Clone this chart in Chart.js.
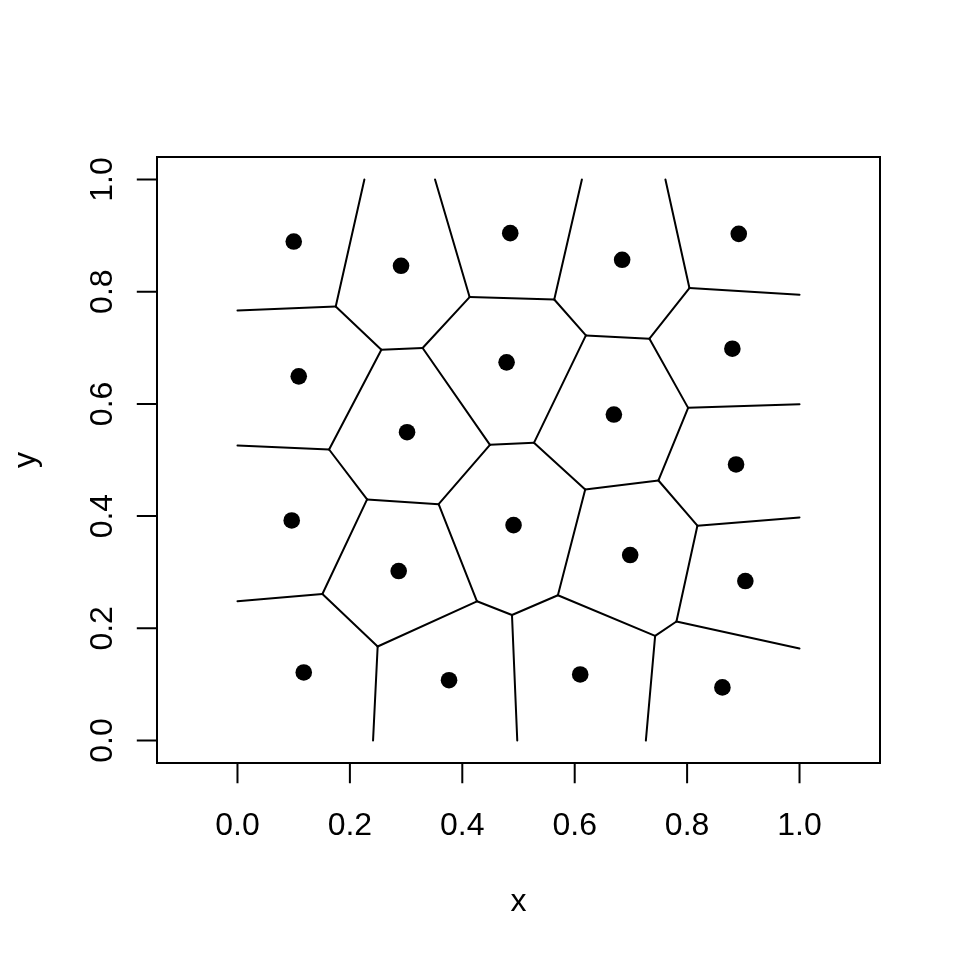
<!DOCTYPE html>
<html>
<head>
<meta charset="utf-8">
<script src="https://cdn.jsdelivr.net/npm/chart.js@4/dist/chart.umd.min.js"></script>
<style>
  html, body { margin: 0; padding: 0; background: #ffffff; }
  #wrap { width: 960px; height: 960px; }
</style>
</head>
<body>
<div id="wrap"><canvas id="c" width="960" height="960"></canvas></div>
<script>
// ---- data: generator points ----
const pointX = [0.1001, 0.2910, 0.4853, 0.6844, 0.8919,
                0.1090, 0.3017, 0.4788, 0.6697, 0.8805,
                0.0965, 0.2868, 0.4912, 0.6987, 0.8871,
                0.1179, 0.3764, 0.6098, 0.8628, 0.9036];
const pointY = [0.8893, 0.8461, 0.9043, 0.8568, 0.9030,
                0.6491, 0.5495, 0.6740, 0.5810, 0.6984,
                0.3923, 0.3021, 0.3840, 0.3306, 0.4920,
                0.1214, 0.1076, 0.1178, 0.0947, 0.2843];

// ---- data: Voronoi edges (start x, start y, end x, end y) ----
const edgeX0 = [0.2258, 0.0000, 0.1748, 0.2560, 0.3294, 0.4130, 0.4130, 0.5636, 0.5636, 0.6199,
                0.7330, 0.8041, 0.8041, 0.7330, 0.8018, 0.8018, 0.7490, 0.7490, 0.8183, 0.8183,
                0.7810, 0.7810, 0.7431, 0.7431, 0.5701, 0.6187, 0.5275, 0.5275, 0.4492, 0.4492,
                0.3579, 0.2306, 0.1630, 0.1630, 0.2306, 0.1511, 0.1511, 0.2494, 0.2494, 0.4261,
                0.4261, 0.4884, 0.4884];
const edgeY0 = [1.0000, 0.7665, 0.7737, 0.6966, 0.6996, 0.7904, 0.7904, 0.7861, 0.7861, 0.7221,
                0.7162, 0.8064, 0.8064, 0.7162, 0.5929, 0.5929, 0.4635, 0.4635, 0.3829, 0.3829,
                0.2121, 0.2121, 0.1865, 0.1865, 0.2589, 0.4475, 0.5306, 0.5306, 0.5270, 0.5270,
                0.4213, 0.4297, 0.5187, 0.5187, 0.4297, 0.2612, 0.2612, 0.1676, 0.1676, 0.2482,
                0.2482, 0.2238, 0.2238];
const edgeX1 = [0.1748, 0.1748, 0.2560, 0.3294, 0.4130, 0.3515, 0.5636, 0.6128, 0.6199, 0.7330,
                0.8041, 0.7614, 1.0000, 0.8018, 1.0000, 0.7490, 0.6187, 0.8183, 1.0000, 0.7810,
                1.0000, 0.7431, 0.7266, 0.5701, 0.6187, 0.5275, 0.6199, 0.4492, 0.3294, 0.3579,
                0.2306, 0.1630, 0.2560, 0.0000, 0.1511, 0.0000, 0.2494, 0.2412, 0.4261, 0.3579,
                0.4884, 0.4978, 0.5701];
const edgeY1 = [0.7737, 0.7737, 0.6966, 0.6996, 0.7904, 1.0000, 0.7861, 1.0000, 0.7221, 0.7162,
                0.8064, 1.0000, 0.7945, 0.5929, 0.5993, 0.4635, 0.4475, 0.3829, 0.3977, 0.2121,
                0.1641, 0.1865, 0.0000, 0.2589, 0.4475, 0.5306, 0.7221, 0.5270, 0.6996, 0.4213,
                0.4297, 0.5187, 0.6966, 0.5258, 0.2612, 0.2482, 0.1676, 0.0000, 0.2482, 0.4213,
                0.2238, 0.0000, 0.2589];

// ---- axes ----
const tickValues = [0, 0.2, 0.4, 0.6, 0.8, 1.0];
const tickLabels = ['0.0', '0.2', '0.4', '0.6', '0.8', '1.0'];
const xTitle = 'x';
const yTitle = 'y';

const FONT = '32px "Liberation Sans", Arial, Helvetica, sans-serif';

const datasets = [];
datasets.push({
  label: 'points',
  data: pointX.map((x, i) => ({ x: x, y: pointY[i] })),
  pointRadius: 8.3,
  pointHoverRadius: 8.3,
  pointBackgroundColor: '#000000',
  pointBorderColor: '#000000',
  pointBorderWidth: 0,
  showLine: false,
  order: 0
});
for (let i = 0; i < edgeX0.length; i++) {
  datasets.push({
    label: 'edge' + i,
    data: [{ x: edgeX0[i], y: edgeY0[i] }, { x: edgeX1[i], y: edgeY1[i] }],
    showLine: true,
    borderColor: '#000000',
    borderWidth: 2,
    borderCapStyle: 'round',
    borderJoinStyle: 'round',
    pointRadius: 0,
    pointHoverRadius: 0,
    fill: false,
    order: 1
  });
}

const rAxes = {
  id: 'rAxes',
  afterDraw(chart) {
    const ctx = chart.ctx;
    const a = chart.chartArea;
    const xs = chart.scales.x, ys = chart.scales.y;
    ctx.save();
    ctx.strokeStyle = '#000000';
    ctx.fillStyle = '#000000';
    ctx.lineWidth = 2;
    ctx.lineCap = 'square';
    // box
    ctx.strokeRect(a.left, a.top, a.right - a.left, a.bottom - a.top);
    const tl = 19.2;
    // x axis
    ctx.beginPath();
    ctx.moveTo(xs.getPixelForValue(tickValues[0]), a.bottom);
    ctx.lineTo(xs.getPixelForValue(tickValues[tickValues.length - 1]), a.bottom);
    tickValues.forEach(v => {
      const px = xs.getPixelForValue(v);
      ctx.moveTo(px, a.bottom);
      ctx.lineTo(px, a.bottom + tl);
    });
    ctx.stroke();
    // y axis
    ctx.beginPath();
    ctx.moveTo(a.left, ys.getPixelForValue(tickValues[0]));
    ctx.lineTo(a.left, ys.getPixelForValue(tickValues[tickValues.length - 1]));
    tickValues.forEach(v => {
      const py = ys.getPixelForValue(v);
      ctx.moveTo(a.left, py);
      ctx.lineTo(a.left - tl, py);
    });
    ctx.stroke();
    // labels
    ctx.font = FONT;
    ctx.textAlign = 'center';
    ctx.textBaseline = 'alphabetic';
    tickValues.forEach((v, i) => {
      ctx.fillText(tickLabels[i], xs.getPixelForValue(v), a.bottom + 71.5);
    });
    tickValues.forEach((v, i) => {
      ctx.save();
      ctx.translate(a.left - 45.5, ys.getPixelForValue(v));
      ctx.rotate(-Math.PI / 2);
      ctx.fillText(tickLabels[i], 0, 0);
      ctx.restore();
    });
    // titles
    ctx.fillText(xTitle, (a.left + a.right) / 2, a.bottom + 148.3);
    ctx.save();
    ctx.translate(a.left - 122.3, (a.top + a.bottom) / 2);
    ctx.rotate(-Math.PI / 2);
    ctx.fillText(yTitle, 0, 0);
    ctx.restore();
    ctx.restore();
  }
};

new Chart(document.getElementById('c'), {
  type: 'scatter',
  data: { datasets: datasets },
  options: {
    responsive: false,
    animation: false,
    devicePixelRatio: 1,
    layout: { padding: { left: 157, right: 80, top: 157, bottom: 197 } },
    plugins: { legend: { display: false }, tooltip: { enabled: false } },
    scales: {
      x: { type: 'linear', min: -0.1432, max: 1.1432, display: false },
      y: { type: 'linear', min: -0.04, max: 1.04, display: false }
    }
  },
  plugins: [rAxes]
});
</script>
</body>
</html>
